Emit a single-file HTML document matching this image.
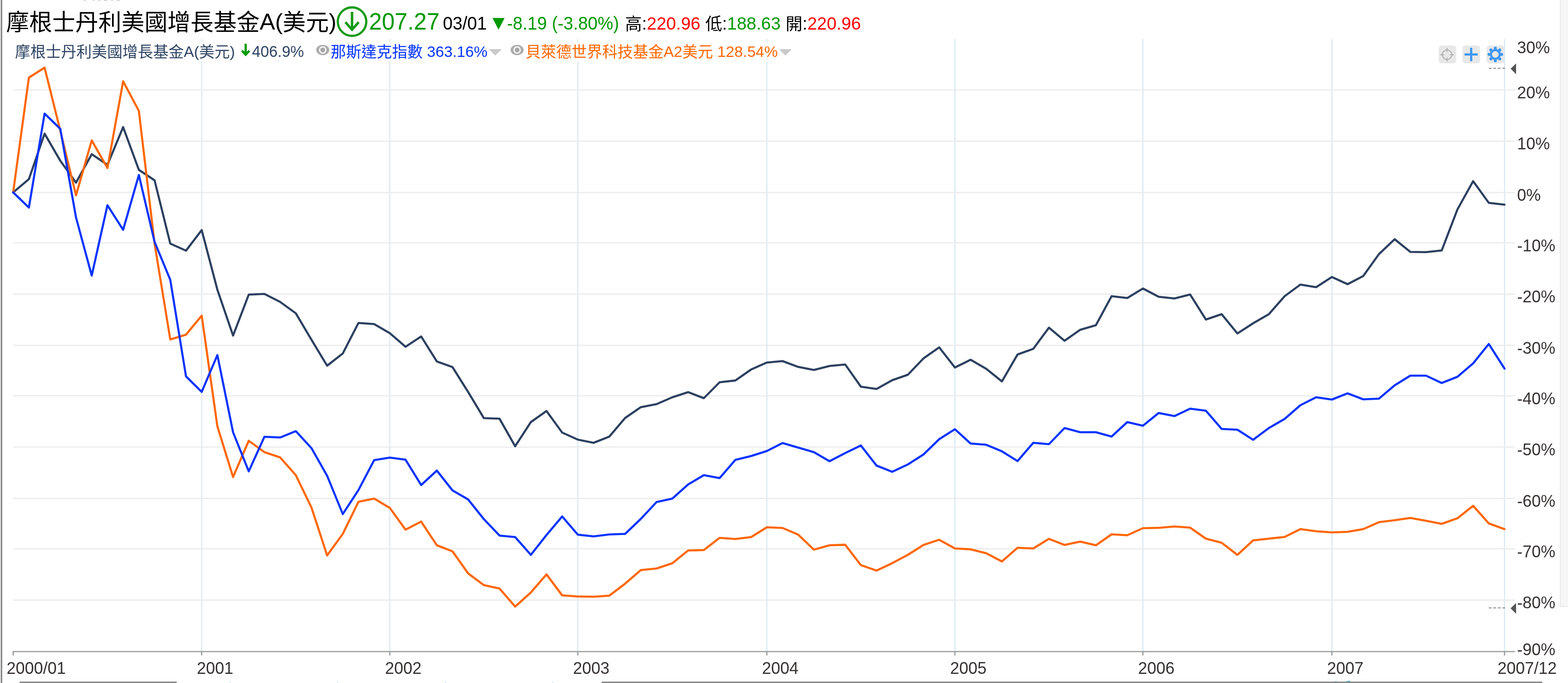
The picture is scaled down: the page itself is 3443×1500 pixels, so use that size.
<!DOCTYPE html>
<html lang="zh-Hant"><head><meta charset="utf-8"><title>摩根士丹利美國增長基金A(美元)</title>
<style>
html,body{margin:0;padding:0;background:#fff;}
body{width:3443px;height:1500px;overflow:hidden;position:relative;}
svg{position:absolute;left:0;top:0;display:block;}
text{font-family:"Liberation Sans", "Noto Sans CJK TC", sans-serif;white-space:pre;}
.ax{font-size:36px;fill:#363232;}
.lg{font-size:33.75px;}
.t1{font-size:50.625px;}
.t2{font-size:38.475px;}
</style></head><body>
<svg width="3443" height="1500" viewBox="0 0 3443 1500">
<rect x="0" y="0" width="2.2" height="1500" fill="#dedede"/>
<rect x="2.2" y="0" width="2.6" height="1500" fill="#747474"/>
<rect x="3425" y="0" width="18" height="1333" fill="#f6f6f6"/>
<rect x="3425" y="0" width="2" height="1333" fill="#e9e9e9"/>
<rect x="3425" y="1331" width="18" height="2" fill="#e9e9e9"/>
<rect x="0" y="62.2" width="2.1" height="2.6" fill="#c6c6c6"/>
<rect x="43" y="1496.9" width="345.1" height="3.1" fill="#888"/>
<rect x="1321.1" y="1496.9" width="2065.4" height="3.1" fill="#888"/>
<rect x="503.9" y="1497.4" width="2.5" height="2.6" fill="#d3e7f3"/>
<rect x="739.8" y="1497.4" width="2.5" height="2.6" fill="#d3e7f3"/>
<rect x="977.0" y="1497.4" width="2.5" height="2.6" fill="#d3e7f3"/>
<rect x="1212.5" y="1497.4" width="2.5" height="2.6" fill="#d3e7f3"/>
<path d="M2929.9,1497 Q2932.5,1495.6 2935.7,1496.6 L2935.7,1497 Z M2953.6,1497 L2961,1495.6 Q2964,1494.6 2965.6,1497 Z" fill="#22a0e2"/>
<rect x="184.2" y="0" width="3.7" height="0.9" fill="#8a8a8a"/>
<rect x="204.0" y="0" width="3.1" height="0.9" fill="#8a8a8a"/>
<rect x="216.1" y="0" width="3.8" height="0.9" fill="#8a8a8a"/>
<rect x="228.3" y="0" width="6.8" height="0.9" fill="#8a8a8a"/>
<rect x="244.1" y="0" width="3.7" height="0.9" fill="#8a8a8a"/>
<rect x="256.5" y="0" width="6.2" height="0.9" fill="#8a8a8a"/>
<defs><filter id="bl" x="-20%" y="-20%" width="140%" height="140%"><feGaussianBlur stdDeviation="0.75"/></filter><filter id="bl2" x="-20%" y="-20%" width="140%" height="140%"><feGaussianBlur stdDeviation="0.5"/></filter></defs>
<rect x="3159.0" y="100" width="38.6" height="39" rx="6" ry="6" fill="#e8e8e8"/>
<rect x="3211.3" y="100" width="38.6" height="39" rx="6" ry="6" fill="#e8e8e8"/>
<rect x="3264.2" y="100" width="38.6" height="39" rx="6" ry="6" fill="#e8e8e8"/>
<g filter="url(#bl)">
<circle cx="3177.4" cy="120.2" r="10.3" fill="none" stroke="#b9b9b9" stroke-width="2.5"/>
<g fill="#b9b9b9">
<polygon transform="rotate(0 3177.4 120.2)" points="3174.2,109.6 3180.6,109.6 3177.4,104.6"/>
<rect transform="rotate(0 3177.4 120.2)" x="3176.3" y="110.6" width="2.2" height="3.6"/>
<polygon transform="rotate(90 3177.4 120.2)" points="3174.2,109.6 3180.6,109.6 3177.4,104.6"/>
<rect transform="rotate(90 3177.4 120.2)" x="3176.3" y="110.6" width="2.2" height="3.6"/>
<polygon transform="rotate(180 3177.4 120.2)" points="3174.2,109.6 3180.6,109.6 3177.4,104.6"/>
<rect transform="rotate(180 3177.4 120.2)" x="3176.3" y="110.6" width="2.2" height="3.6"/>
<polygon transform="rotate(270 3177.4 120.2)" points="3174.2,109.6 3180.6,109.6 3177.4,104.6"/>
<rect transform="rotate(270 3177.4 120.2)" x="3176.3" y="110.6" width="2.2" height="3.6"/>
</g></g>
<g fill="#3d97f1" filter="url(#bl2)"><rect x="3215.8" y="117.2" width="29.2" height="4.8" rx="1.2"/><rect x="3228.0" y="104.8" width="4.8" height="29.6" rx="1.2"/></g>
<g filter="url(#bl)"><circle cx="3283.4" cy="119.6" r="9.7" fill="none" stroke="#3d97f1" stroke-width="4.7"/>
<circle transform="rotate(0.0 3283.4 119.6)" cx="3283.4" cy="105.8" r="3.3" fill="#3d97f1"/>
<circle transform="rotate(45.0 3283.4 119.6)" cx="3283.4" cy="105.8" r="3.3" fill="#3d97f1"/>
<circle transform="rotate(90.0 3283.4 119.6)" cx="3283.4" cy="105.8" r="3.3" fill="#3d97f1"/>
<circle transform="rotate(135.0 3283.4 119.6)" cx="3283.4" cy="105.8" r="3.3" fill="#3d97f1"/>
<circle transform="rotate(180.0 3283.4 119.6)" cx="3283.4" cy="105.8" r="3.3" fill="#3d97f1"/>
<circle transform="rotate(225.0 3283.4 119.6)" cx="3283.4" cy="105.8" r="3.3" fill="#3d97f1"/>
<circle transform="rotate(270.0 3283.4 119.6)" cx="3283.4" cy="105.8" r="3.3" fill="#3d97f1"/>
<circle transform="rotate(315.0 3283.4 119.6)" cx="3283.4" cy="105.8" r="3.3" fill="#3d97f1"/>
</g>
<g stroke="#d9e9f4" stroke-width="2.6">
<line x1="442.9" y1="85.7" x2="442.9" y2="1431.0"/>
<line x1="856.0" y1="85.7" x2="856.0" y2="1431.0"/>
<line x1="1268.8" y1="85.7" x2="1268.8" y2="1431.0"/>
<line x1="1683.9" y1="85.7" x2="1683.9" y2="1431.0"/>
<line x1="2096.8" y1="85.7" x2="2096.8" y2="1431.0"/>
<line x1="2509.6" y1="85.7" x2="2509.6" y2="1431.0"/>
<line x1="2924.5" y1="85.7" x2="2924.5" y2="1431.0"/>
<line x1="3303.6" y1="85.7" x2="3303.6" y2="1431.0"/>
</g>
<g stroke="#ececec" stroke-width="2.8">
<line x1="28.9" y1="197.4" x2="3326.5" y2="197.4"/>
<line x1="28.9" y1="310.0" x2="3326.5" y2="310.0"/>
<line x1="28.9" y1="422.8" x2="3326.5" y2="422.8"/>
<line x1="28.9" y1="533.3" x2="3326.5" y2="533.3"/>
<line x1="28.9" y1="646.0" x2="3326.5" y2="646.0"/>
<line x1="28.9" y1="758.4" x2="3326.5" y2="758.4"/>
<line x1="28.9" y1="869.2" x2="3326.5" y2="869.2"/>
<line x1="28.9" y1="981.9" x2="3326.5" y2="981.9"/>
<line x1="28.9" y1="1094.7" x2="3326.5" y2="1094.7"/>
<line x1="28.9" y1="1205.4" x2="3326.5" y2="1205.4"/>
<line x1="28.9" y1="1318.0" x2="3326.5" y2="1318.0"/>
</g>
<rect x="30" y="91.3" width="1715" height="43.8" fill="#fff" fill-opacity="0.75"/>
<g stroke="#999" stroke-width="2.6">
<line x1="27.6" y1="1431.0" x2="3326.5" y2="1431.0"/>
<line x1="28.9" y1="1431.0" x2="28.9" y2="1439.5"/>
<line x1="442.9" y1="1431.0" x2="442.9" y2="1439.5"/>
<line x1="856.0" y1="1431.0" x2="856.0" y2="1439.5"/>
<line x1="1268.8" y1="1431.0" x2="1268.8" y2="1439.5"/>
<line x1="1683.9" y1="1431.0" x2="1683.9" y2="1439.5"/>
<line x1="2096.8" y1="1431.0" x2="2096.8" y2="1439.5"/>
<line x1="2509.6" y1="1431.0" x2="2509.6" y2="1439.5"/>
<line x1="2924.5" y1="1431.0" x2="2924.5" y2="1439.5"/>
<line x1="3303.6" y1="1431.0" x2="3303.6" y2="1439.5"/>
</g>
<polyline points="28.9,422.5 63.4,393.5 97.9,293.5 132.4,353.0 166.9,401.2 201.4,338.6 235.9,362.0 270.4,279.2 304.9,373.0 339.4,396.0 373.9,535.0 408.4,550.5 442.9,505.3 477.3,636.2 511.8,737.0 546.2,647.0 580.6,645.5 615.0,663.0 649.5,688.0 683.9,746.2 718.3,803.1 752.7,776.2 787.1,709.2 821.6,711.8 856.0,731.8 890.4,761.6 924.8,738.9 959.2,793.8 993.6,806.2 1028.0,861.0 1062.4,918.2 1096.8,919.5 1131.2,980.1 1165.6,927.0 1200.0,902.6 1234.4,950.0 1268.8,965.5 1303.4,972.5 1338.0,958.8 1372.6,918.0 1407.2,894.2 1441.8,887.5 1476.3,872.5 1510.9,861.2 1545.5,874.5 1580.1,839.5 1614.7,835.6 1649.3,811.5 1683.9,796.2 1718.3,793.0 1752.7,805.8 1787.1,812.5 1821.5,803.8 1855.9,800.5 1890.3,849.2 1924.7,854.2 1959.1,835.0 1993.5,823.0 2027.9,787.0 2062.3,762.9 2096.8,807.1 2131.2,790.1 2165.6,810.0 2200.0,837.6 2234.4,778.5 2268.8,766.2 2303.2,719.6 2337.6,748.4 2372.0,724.2 2406.4,714.2 2440.8,650.5 2475.2,654.5 2509.6,633.6 2544.2,651.8 2578.8,655.5 2613.3,646.8 2647.9,701.8 2682.5,690.0 2717.1,732.4 2751.6,710.0 2786.2,690.0 2820.8,650.5 2855.3,625.0 2889.9,630.8 2924.5,608.4 2959.0,624.1 2993.4,606.2 3027.9,558.0 3062.4,525.4 3096.8,553.2 3131.3,553.8 3165.7,550.0 3200.2,460.0 3234.7,397.9 3269.1,445.5 3303.6,449.5" fill="none" stroke="#2c4060" stroke-width="4.6" stroke-linejoin="round" stroke-linecap="round"/>
<polyline points="28.9,422.5 63.4,170.5 97.9,148.5 132.4,287.0 166.9,429.0 201.4,308.3 235.9,369.0 270.4,178.6 304.9,243.5 339.4,535.0 373.9,745.5 408.4,735.0 442.9,693.3 477.3,936.2 511.8,1047.7 546.2,968.0 580.6,993.0 615.0,1004.5 649.5,1043.5 683.9,1114.5 718.3,1219.9 752.7,1172.5 787.1,1102.0 821.6,1095.0 856.0,1115.5 890.4,1163.2 924.8,1145.5 959.2,1197.5 993.6,1210.8 1028.0,1259.4 1062.4,1285.0 1096.8,1292.5 1131.2,1332.3 1165.6,1301.2 1200.0,1261.4 1234.4,1307.5 1268.8,1310.0 1303.4,1310.5 1338.0,1308.2 1372.6,1281.8 1407.2,1252.0 1441.8,1248.5 1476.3,1237.0 1510.9,1209.0 1545.5,1208.0 1580.1,1181.2 1614.7,1183.8 1649.3,1179.5 1683.9,1158.0 1718.3,1159.5 1752.7,1174.2 1787.1,1207.1 1821.5,1197.5 1855.9,1196.4 1890.3,1241.2 1924.7,1253.1 1959.1,1236.8 1993.5,1218.5 2027.9,1196.8 2062.3,1185.4 2096.8,1204.5 2131.2,1206.4 2165.6,1215.0 2200.0,1233.1 2234.4,1203.0 2268.8,1204.5 2303.2,1183.4 2337.6,1196.8 2372.0,1189.5 2406.4,1197.6 2440.8,1173.5 2475.2,1175.5 2509.6,1160.0 2544.2,1159.2 2578.8,1156.2 2613.3,1158.8 2647.9,1183.0 2682.5,1192.0 2717.1,1218.6 2751.6,1186.8 2786.2,1183.0 2820.8,1179.2 2855.3,1162.0 2889.9,1166.8 2924.5,1169.2 2959.0,1168.0 2993.4,1162.0 3027.9,1146.8 3062.4,1142.5 3096.8,1137.5 3131.3,1143.8 3165.7,1150.5 3200.2,1138.2 3234.7,1110.9 3269.1,1149.5 3303.6,1162.0" fill="none" stroke="#ff6600" stroke-width="4.6" stroke-linejoin="round" stroke-linecap="round"/>
<polyline points="28.9,422.5 63.4,455.8 97.9,249.5 132.4,283.0 166.9,477.5 201.4,605.2 235.9,450.8 270.4,504.7 304.9,384.3 339.4,531.2 373.9,614.7 408.4,826.5 442.9,860.7 477.3,779.8 511.8,949.5 546.2,1035.1 580.6,959.2 615.0,960.8 649.5,946.8 683.9,984.2 718.3,1044.8 752.7,1129.0 787.1,1076.2 821.6,1010.5 856.0,1005.0 890.4,1009.5 924.8,1065.2 959.2,1033.5 993.6,1077.0 1028.0,1097.0 1062.4,1140.0 1096.8,1176.2 1131.2,1179.5 1165.6,1218.6 1200.0,1175.0 1234.4,1134.2 1268.8,1174.2 1303.4,1178.0 1338.0,1173.8 1372.6,1172.5 1407.2,1139.5 1441.8,1102.5 1476.3,1095.0 1510.9,1064.0 1545.5,1043.5 1580.1,1050.0 1614.7,1010.0 1649.3,1001.5 1683.9,990.5 1718.3,973.0 1752.7,983.0 1787.1,993.0 1821.5,1012.9 1855.9,995.0 1890.3,978.4 1924.7,1022.5 1959.1,1036.1 1993.5,1020.0 2027.9,998.0 2062.3,964.5 2096.8,942.6 2131.2,974.0 2165.6,976.8 2200.0,991.2 2234.4,1012.6 2268.8,972.5 2303.2,975.5 2337.6,940.0 2372.0,949.2 2406.4,949.2 2440.8,958.8 2475.2,927.0 2509.6,935.0 2544.2,907.0 2578.8,913.8 2613.3,897.5 2647.9,902.0 2682.5,942.0 2717.1,943.8 2751.6,965.9 2786.2,940.0 2820.8,920.0 2855.3,890.0 2889.9,872.5 2924.5,877.5 2959.0,863.8 2993.4,877.0 3027.9,875.5 3062.4,846.2 3096.8,825.0 3131.3,825.0 3165.7,841.1 3200.2,827.5 3234.7,798.0 3269.1,755.4 3303.6,809.5" fill="none" stroke="#0433ff" stroke-width="4.6" stroke-linejoin="round" stroke-linecap="round"/>
<text transform="translate(3331.20,116.90) scale(1,1.040)" class="ax">30%</text>
<text transform="translate(3331.20,215.80) scale(1,1.040)" class="ax">20%</text>
<text transform="translate(3331.20,328.40) scale(1,1.040)" class="ax">10%</text>
<text transform="translate(3331.20,441.20) scale(1,1.040)" class="ax">0%</text>
<text transform="translate(3331.20,551.70) scale(1,1.040)" class="ax">-10%</text>
<text transform="translate(3331.20,664.40) scale(1,1.040)" class="ax">-20%</text>
<text transform="translate(3331.20,776.80) scale(1,1.040)" class="ax">-30%</text>
<text transform="translate(3331.20,887.60) scale(1,1.040)" class="ax">-40%</text>
<text transform="translate(3331.20,1000.30) scale(1,1.040)" class="ax">-50%</text>
<text transform="translate(3331.20,1113.10) scale(1,1.040)" class="ax">-60%</text>
<text transform="translate(3331.20,1223.80) scale(1,1.040)" class="ax">-70%</text>
<text transform="translate(3331.20,1336.40) scale(1,1.040)" class="ax">-80%</text>
<text transform="translate(3331.20,1438.70) scale(1,1.040)" class="ax">-90%</text>
<text transform="translate(14.50,1479.80) scale(1,1.040)" class="ax">2000/01</text>
<text transform="translate(432.30,1479.80) scale(1,1.040)" class="ax">2001</text>
<text transform="translate(845.40,1479.80) scale(1,1.040)" class="ax">2002</text>
<text transform="translate(1258.20,1479.80) scale(1,1.040)" class="ax">2003</text>
<text transform="translate(1673.30,1479.80) scale(1,1.040)" class="ax">2004</text>
<text transform="translate(2086.15,1479.80) scale(1,1.040)" class="ax">2005</text>
<text transform="translate(2499.00,1479.80) scale(1,1.040)" class="ax">2006</text>
<text transform="translate(2913.90,1479.80) scale(1,1.040)" class="ax">2007</text>
<text transform="translate(3288.20,1479.80) scale(1,1.040)" class="ax">2007/12</text>
<line x1="3269" y1="150.0" x2="3305" y2="150.0" stroke="#9a9a9a" stroke-width="2.4" stroke-dasharray="6 4"/>
<polygon points="3317,151.1 3329,139.3 3329,162.9" fill="#555"/>
<line x1="3269" y1="1335.0" x2="3305" y2="1335.0" stroke="#9a9a9a" stroke-width="2.4" stroke-dasharray="6 4"/>
<polygon points="3317,1336.1 3329,1324.3 3329,1347.9" fill="#555"/>
<text x="13.50" y="67.10" font-size="50.625"><tspan fill="#000">摩根士丹利美國增長基金</tspan><tspan fill="#000" dy="-1.90">A(</tspan><tspan fill="#000" dy="1.90">美元</tspan><tspan fill="#000" dy="-1.90">)</tspan></text>
<g fill="none" stroke="#129a12" stroke-width="4.9" filter="url(#bl2)"><circle cx="773" cy="47.5" r="31.3"/><path d="M773,25.9 V66 M758.4,48.6 L773,65.2 L787.6,48.6" stroke-width="5.4" stroke-linecap="butt" stroke-linejoin="miter"/></g>
<text transform="translate(810.30,65.10) scale(1,1.040)" font-size="50.625" fill="#009900">207.27</text>
<text transform="translate(972.60,65.10) scale(1,1.040)" font-size="38.475" fill="#000">03/01</text>
<polygon points="1081.5,39.4 1108,39.4 1094.7,65.2" fill="#009900"/>
<text transform="translate(1113.30,65.10) scale(1,1.040)" font-size="38.475" fill="#009900">-8.19 (-3.80%)</text>
<text x="1372.50" y="66.30" font-size="38.475"><tspan fill="#000" font-size="37.125">高</tspan><tspan fill="#000" dy="-1.20">:</tspan><tspan fill="#ff0000">220.96</tspan><tspan fill="#000"> </tspan><tspan fill="#000" dy="1.20" font-size="37.125">低</tspan><tspan fill="#000" dy="-1.20">:</tspan><tspan fill="#009900">188.63</tspan><tspan fill="#000"> </tspan><tspan fill="#000" dy="1.20" font-size="37.125">開</tspan><tspan fill="#000" dy="-1.20">:</tspan><tspan fill="#ff0000">220.96</tspan></text>
<text x="33.00" y="125.80" font-size="33.7"><tspan fill="#2f4464">摩根士丹利美國增長基金</tspan><tspan fill="#2f4464" dy="-1.20">A(</tspan><tspan fill="#2f4464" dy="1.20">美元</tspan><tspan fill="#2f4464" dy="-1.20">)</tspan></text>
<path d="M539.4,96 V119 M531.2,111.2 L539.4,120.1 L547.6,111.2" fill="none" stroke="#009900" stroke-width="5" stroke-linejoin="miter" filter="url(#bl2)"/>
<text transform="translate(553.30,124.60) scale(1,1.040)" font-size="33.7" fill="#2f4464">406.9%</text>
<g filter="url(#bl2)"><ellipse cx="708.6" cy="109.8" rx="14.3" ry="11.4" fill="#ababab"/><circle cx="708.6" cy="109.8" r="8.4" fill="#f4f4f4"/><circle cx="708.6" cy="109.8" r="5.2" fill="#a6a6a6"/></g>
<text x="726.00" y="125.80" font-size="33.7"><tspan fill="#0433ff">那斯達克指數</tspan><tspan fill="#0433ff" dy="-1.20"> 363.16%</tspan></text>
<polygon points="1073.3,108 1101.8,108 1087.5,122" fill="#c9c9c9"/>
<g filter="url(#bl2)"><ellipse cx="1135.5" cy="109.8" rx="14.3" ry="11.4" fill="#ababab"/><circle cx="1135.5" cy="109.8" r="8.4" fill="#f4f4f4"/><circle cx="1135.5" cy="109.8" r="5.2" fill="#a6a6a6"/></g>
<text x="1153.90" y="125.80" font-size="33.7"><tspan fill="#ff6600">貝萊德世界科技基金</tspan><tspan fill="#ff6600" dy="-1.20">A2</tspan><tspan fill="#ff6600" dy="1.20">美元</tspan><tspan fill="#ff6600" dy="-1.20"> 128.54%</tspan></text>
<polygon points="1710.5,108 1738.5,108 1724.5,122" fill="#c9c9c9"/>
</svg>
</body></html>
